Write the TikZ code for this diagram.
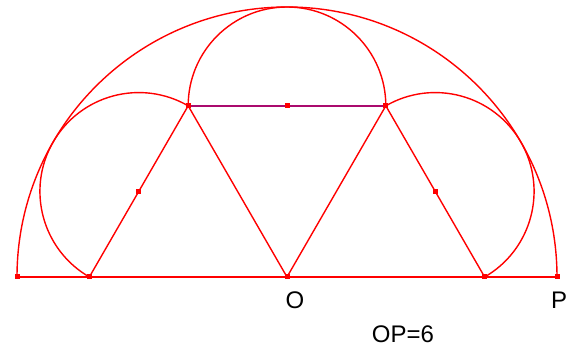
\documentclass[tikz,border=0pt]{standalone}
\usepackage{fontspec}
\setmainfont{Liberation Sans}
\definecolor{seg}{RGB}{170,10,110}
\begin{document}
\begin{tikzpicture}[x=1pt,y=1pt,
  ln/.style={red, line width=1.4pt},
  mk/.style={fill=red, inner sep=0pt, minimum size=5pt, draw=none, rectangle},
  lbl/.style={font=\fontsize{24}{28}\selectfont, inner sep=0pt}]
\useasboundingbox (0,0) rectangle (579,352);
\pgfmathsetmacro\R{270}
\pgfmathsetmacro\r{270/(1+sqrt(3))}
\pgfmathsetmacro\h{\r*sqrt(3)}
\coordinate (O) at (287,75);
\coordinate (P) at (287+\R,75);
\coordinate (Q) at (287-\R,75);
\coordinate (A) at (287-2*\r,75);
\coordinate (D) at (287+2*\r,75);
\coordinate (B) at (287-\r,75+\h);
\coordinate (C) at (287+\r,75+\h);
\coordinate (M) at (287,75+\h);
\coordinate (L) at (287-1.5*\r,75+\h/2);
\coordinate (Rc) at (287+1.5*\r,75+\h/2);
% big semicircle
\draw[ln] (P) arc (0:180:\R);
% top semicircle
\draw[ln] (C) arc (0:180:\r);
% side semicircles
\draw[ln] (B) arc (60:240:\r);
\draw[ln] (D) arc (-60:120:\r);
% baseline and triangles
\draw[ln] (Q) -- (P);
\draw[ln] (A) -- (B) -- (O) -- (C) -- (D);
\draw[red, line width=2.6pt] (B) -- (C);
\draw[seg, line width=1.6pt] (B) -- (C);
% markers
\foreach \p in {O,P,Q,A,D,B,C,M,L,Rc} \node[mk] at (\p) {};
% labels
\node[lbl] (lO) at (295,52) {O};
\node[lbl] (lP) at (559,52) {P};
\node[lbl] (lOP) at (403,18) {OP=6};
\end{tikzpicture}
\end{document}
